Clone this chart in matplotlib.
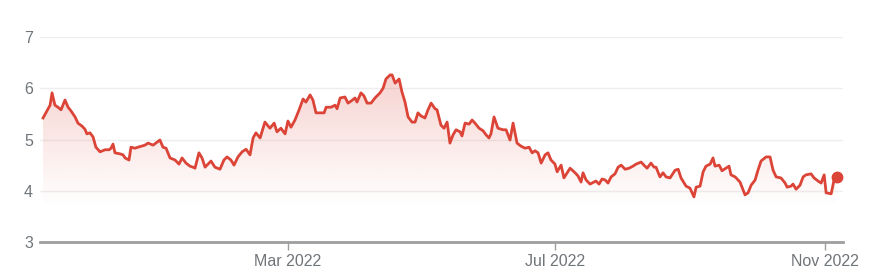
import numpy as np
import pandas as pd
import matplotlib
matplotlib.use('Agg')
import matplotlib.pyplot as plt
import matplotlib.dates as mdates
from matplotlib.patches import Polygon

# ---------------- data ----------------
start_date = '2021-11-08'
end_date = '2022-11-09 07:00'
day_offsets = [
    1.4, 2.7, 4.6, 5.5, 6.8, 8.2, 9.6, 11.4, 12.8, 14.1, 16.0, 17.3, 19.2, 20.5, 21.4,
    22.8, 24.2, 25.5, 27.4, 29.7, 31.5, 32.4, 33.3, 34.2, 36.5, 37.9, 38.8, 40.6, 41.5,
    43.3, 44.7, 47.9, 49.3, 51.6, 54.7, 56.1, 57.5, 59.3, 61.6, 63.4, 64.8, 66.6, 68.4,
    69.8, 70.7, 72.5, 73.9, 75.3, 78.0, 79.8, 82.1, 83.9, 85.3, 87.1, 88.5, 90.3, 92.2,
    94.0, 95.8, 97.2, 98.5, 100.4, 102.6, 104.9, 106.8, 108.1, 109.9, 111.8, 113.1,
    114.5, 116.3, 118.2, 120.0, 121.3, 123.2, 124.5, 125.9, 128.2, 129.6, 130.5, 132.8,
    134.6, 135.5, 136.9, 139.1, 140.5, 141.9, 143.7, 144.6, 146.4, 147.8, 149.2, 151.0,
    152.8, 155.1, 156.5, 157.8, 159.7, 160.6, 162.0, 163.8, 165.1, 166.5, 167.9, 169.7,
    171.1, 172.4, 173.8, 175.6, 177.0, 178.4, 180.2, 181.1, 182.9, 184.3, 185.7, 187.0,
    188.4, 189.8, 191.6, 192.5, 193.9, 195.7, 197.1, 198.4, 200.3, 202.1, 203.5, 204.8,
    205.7, 207.1, 208.9, 211.2, 212.6, 214.4, 215.8, 216.7, 217.6, 219.4, 221.3, 223.1,
    224.5, 225.8, 227.2, 228.6, 230.4, 231.7, 233.1, 234.9, 235.9, 237.7, 239.0, 241.8,
    244.1, 245.4, 246.8, 247.7, 249.1, 250.9, 252.7, 253.6, 255.0, 256.4, 257.8, 259.1,
    260.5, 262.3, 263.7, 265.1, 266.9, 268.7, 270.5, 271.9, 274.2, 275.5, 276.9, 278.7,
    280.1, 281.0, 282.8, 284.2, 285.6, 287.4, 289.7, 291.1, 292.4, 294.7, 296.5, 298.3,
    299.3, 301.1, 302.5, 303.8, 305.7, 307.0, 307.9, 309.8, 311.1, 312.9, 314.3, 315.2,
    317.1, 319.3, 321.6, 323.0, 324.4, 326.2, 327.5, 328.9, 331.2, 333.0, 334.4, 335.8,
    338.0, 339.9, 340.8, 342.6, 343.5, 344.9, 346.7, 348.1, 349.4, 351.7, 353.1, 354.9,
    356.3, 357.7, 358.6, 360.9, 362.2, 363.6,
]
prices = [
    5.42, 5.52, 5.67, 5.91, 5.67, 5.63, 5.58, 5.77, 5.63, 5.56, 5.44, 5.32, 5.26, 5.20, 5.11,
    5.13, 5.05, 4.85, 4.76, 4.80, 4.80, 4.83, 4.91, 4.74, 4.72, 4.70, 4.64, 4.60, 4.85,
    4.83, 4.85, 4.89, 4.93, 4.89, 4.99, 4.85, 4.83, 4.64, 4.60, 4.52, 4.64, 4.54, 4.48,
    4.46, 4.44, 4.74, 4.64, 4.46, 4.58, 4.46, 4.42, 4.60, 4.66, 4.60, 4.50, 4.66, 4.76,
    4.81, 4.70, 5.03, 5.13, 5.03, 5.34, 5.22, 5.32, 5.15, 5.22, 5.11, 5.36,
    5.24, 5.38, 5.58, 5.79, 5.73, 5.87, 5.77, 5.52, 5.52, 5.52, 5.63, 5.63,
    5.67, 5.60, 5.81, 5.83, 5.71, 5.75, 5.81, 5.73, 5.91, 5.85, 5.71, 5.71,
    5.81, 5.91, 6.00, 6.18, 6.26, 6.26, 6.10, 6.18, 5.93, 5.73, 5.44, 5.34,
    5.34, 5.52, 5.46, 5.42, 5.58, 5.71, 5.60, 5.58, 5.28, 5.22, 5.34, 4.93,
    5.09, 5.19, 5.15, 5.07, 5.32, 5.30, 5.38, 5.32, 5.22, 5.17, 5.09, 5.03,
    5.11, 5.44, 5.22, 5.19, 5.19, 4.99, 5.32, 5.13, 4.93, 4.87, 4.83, 4.85,
    4.74, 4.78, 4.74, 4.54, 4.70, 4.74, 4.60, 4.52, 4.37, 4.50, 4.25, 4.44,
    4.35, 4.29, 4.17, 4.35, 4.21, 4.13, 4.17, 4.19, 4.13, 4.23, 4.21, 4.15,
    4.27, 4.33, 4.46, 4.50, 4.42, 4.44, 4.48, 4.52, 4.56, 4.50, 4.44, 4.54,
    4.46, 4.46, 4.27, 4.35, 4.27, 4.25, 4.40, 4.42, 4.25, 4.09, 4.05, 3.88,
    4.07, 4.09, 4.37, 4.48, 4.52, 4.64, 4.48, 4.50, 4.39, 4.44, 4.48, 4.31,
    4.27, 4.17, 3.92, 3.96, 4.11, 4.21, 4.40, 4.58, 4.66, 4.66, 4.40, 4.27,
    4.25, 4.15, 4.07, 4.09, 4.13, 4.03, 4.11, 4.27, 4.31, 4.33, 4.25, 4.19,
    4.15, 4.31, 3.96, 3.94, 4.21, 4.27,
]
y_ticks = [3, 4, 5, 6, 7]
x_tick_dates = ['2022-03-01', '2022-07-01', '2022-11-01']
x_tick_labels = ['Mar 2022', 'Jul 2022', 'Nov 2022']

# ---------------- style ----------------
RED = '#db4437'
TEXT = '#70757a'
AXIS = '#9e9e9e'
GRID = '#eeeeee'

plt.rcParams['font.family'] = ['Liberation Sans', 'DejaVu Sans']

dates = pd.Timestamp(start_date) + pd.to_timedelta(day_offsets, unit='D')
x = mdates.date2num(dates)
y = np.array(prices)

W, H = 890, 277
fig = plt.figure(figsize=(W / 100, H / 100), dpi=100)
ax = fig.add_axes([40 / W, 35 / H, 803 / W, 205 / H])

x0 = mdates.date2num(pd.Timestamp(start_date))
x1 = mdates.date2num(pd.Timestamp(end_date))
ax.set_xlim(x0, x1)
ax.set_ylim(3, 7)

# gradient fill under the line
ymin_g, ymax_g = 3.0, 7.0
n = 256
alpha = np.clip((np.linspace(ymin_g, ymax_g, n) - 3.7) / (6.3 - 3.7), 0, 1) * 0.24
rgba = np.zeros((n, 1, 4))
rgba[..., 0] = 219 / 255
rgba[..., 1] = 68 / 255
rgba[..., 2] = 55 / 255
rgba[..., 3] = alpha[:, None]
im = ax.imshow(rgba, extent=[x0, x1, ymin_g, ymax_g], origin='lower',
               aspect='auto', zorder=1, interpolation='bilinear')
poly_xy = np.column_stack([np.r_[x, x[-1], x[0]], np.r_[y, 3, 3]])
poly = Polygon(poly_xy, closed=True, facecolor='none', edgecolor='none',
               transform=ax.transData)
ax.add_patch(poly)
im.set_clip_path(poly)

ax.plot(x, y, color=RED, lw=2.0, zorder=3, solid_joinstyle='round')
ax.plot(x[-1], y[-1], 'o', color=RED, ms=7.5, zorder=4, clip_on=False)

# axes styling
ax.set_yticks(y_ticks)
ax.yaxis.grid(True, color=GRID, lw=1)
ax.set_axisbelow(True)
for s in ['top', 'right', 'left']:
    ax.spines[s].set_visible(False)
ax.spines['bottom'].set_color(AXIS)
ax.spines['bottom'].set_linewidth(2)
ax.spines['bottom'].set_zorder(5)

ax.set_xticks(mdates.date2num(pd.to_datetime(x_tick_dates)))
ax.set_xticklabels(x_tick_labels)
ax.tick_params(axis='x', direction='out', length=6, width=1, color=AXIS,
               labelcolor=TEXT, labelsize=11.5, pad=3)
ax.tick_params(axis='y', length=0, labelcolor=TEXT, labelsize=11.5, pad=5)

fig.savefig('out.png', dpi=100, facecolor='white')
